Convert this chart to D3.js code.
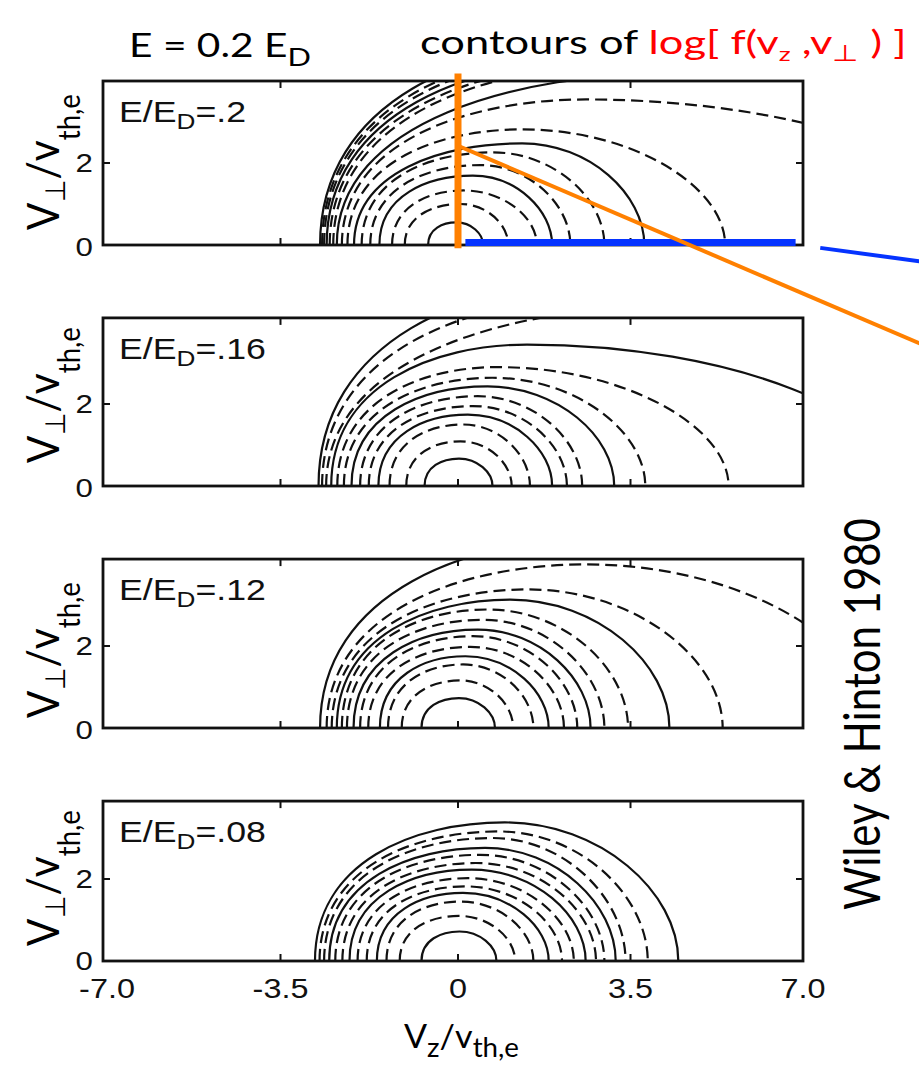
<!DOCTYPE html>
<html>
<head>
<meta charset="utf-8">
<script src="https://cdn.jsdelivr.net/npm/d3@7"></script>
<style>
  html, body { margin: 0; padding: 0; background: #fff; }
  svg { display: block; }
</style>
</head>
<body>
<script>
// E / E_D for each panel, top to bottom
var fieldLabels = [".2", ".16", ".12", ".08"];

var vzTicks = [-7.0, -3.5, 0, 3.5, 7.0];
var vzTickLabels = ["-7.0", "-3.5", "0", "3.5", "7.0"];
var vperpTicks = [0, 2];
var vperpTop = [4.0, 4.1, 4.12, 3.9];

// contours of log f, outer to inner:
// [left foot vz, peak vz, peak vperp, right foot vz, solid (1) / dashed (0)]
var contoursE20 = [
  [-2.72, 3.0, 4.95, 25, 1],
  [-2.68, 3.0, 4.8, 25, 0],
  [-2.64, 3.0, 4.68, 25, 0],
  [-2.59, 3.0, 4.53, 25, 1],
  [-2.53, 3.2, 4.45, 25, 0],
  [-2.46, 3.5, 4.4, 25, 0],
  [-2.39, 4.5, 4.2, 16, 1],
  [-2.29, 2.6, 3.55, 11, 0],
  [-2.18, 1.3, 2.82, 5.42, 0],
  [-2.05, 1.3, 2.48, 3.78, 1],
  [-1.9, 0.7, 2.26, 2.97, 0],
  [-1.73, 0.45, 1.95, 2.28, 0],
  [-1.55, 0.3, 1.69, 1.91, 1],
  [-1.3, 0.12, 1.33, 1.6, 0],
  [-1.05, 0.05, 1.0, 1.02, 0],
  [-0.59, -0.03, 0.55, 0.51, 1]
];
var contoursE16 = [
  [-2.75, 3.0, 5.0, 25, 1],
  [-2.68, 3.0, 4.6, 25, 0],
  [-2.6, 4.5, 4.4, 25, 0],
  [-2.5, 1.4, 3.45, 9, 1],
  [-2.38, 0.8, 2.9, 5.49, 0],
  [-2.25, 0.7, 2.64, 3.8, 0],
  [-2.1, 0.6, 2.43, 3.17, 1],
  [-1.93, 0.4, 2.19, 2.52, 0],
  [-1.76, 0.3, 1.95, 2.21, 0],
  [-1.57, 0.2, 1.74, 1.91, 1],
  [-1.35, 0.1, 1.5, 1.46, 0],
  [-1.02, 0.05, 1.09, 1.09, 0],
  [-0.66, 0.02, 0.67, 0.7, 1]
];
var contoursE12 = [
  [-2.72, 3.0, 4.65, 25, 1],
  [-2.59, 2.6, 3.99, 8.5, 0],
  [-2.49, 1.42, 3.38, 5.37, 0],
  [-2.39, 1.06, 3.13, 4.29, 1],
  [-2.29, 0.6, 2.89, 3.45, 0],
  [-2.19, 0.5, 2.64, 2.97, 0],
  [-2.06, 0.4, 2.4, 2.69, 1],
  [-1.93, 0.3, 2.24, 2.42, 0],
  [-1.77, 0.25, 1.98, 2.15, 0],
  [-1.54, 0.15, 1.75, 1.84, 1],
  [-1.38, 0.1, 1.55, 1.53, 0],
  [-1.11, 0.05, 1.16, 1.12, 0],
  [-0.72, 0.02, 0.73, 0.75, 1]
];
var contoursE08 = [
  [-2.82, 0.95, 3.38, 4.47, 1],
  [-2.73, 0.82, 3.16, 3.85, 0],
  [-2.64, 0.7, 3.0, 3.4, 0],
  [-2.54, 0.55, 2.76, 3.2, 1],
  [-2.42, 0.45, 2.59, 2.97, 0],
  [-2.28, 0.36, 2.39, 2.8, 0],
  [-2.14, 0.28, 2.23, 2.59, 1],
  [-1.98, 0.2, 2.02, 2.35, 0],
  [-1.8, 0.15, 1.82, 2.11, 0],
  [-1.6, 0.1, 1.66, 1.84, 1],
  [-1.41, 0.05, 1.45, 1.53, 0],
  [-1.15, 0.02, 1.1, 1.16, 0],
  [-0.72, 0.03, 0.72, 0.78, 1]
];
var contourSets = [contoursE20, contoursE16, contoursE12, contoursE08];

// annotations drawn over the top panel, in its (vz, vperp) units
var orangeMarker = [[0, -0.08], [0, 4.18]];
var orangePointer = [[0, 2.42], [9.5, -2.47]];
var blueBar = [[0.15, 0.06], [6.85, 0.06]];
var bluePointer = [[7.35, -0.07], [9.5, -0.42]];

var width = 919, height = 1070;
var panelBottom = [245, 486, 728, 961];
var yLabelCenter = [162, 395, 650, 878];
var pxPerUnit = 41;
var ink = "#111";
var slideFont = "Lato, 'Open Sans', sans-serif";
var figFont = "'Liberation Sans', Arial, sans-serif";

var svg = d3.select("body").append("svg")
  .attr("width", width)
  .attr("height", height);

svg.append("rect").attr("width", width).attr("height", height).attr("fill", "#fff");

var x = d3.scaleLinear().domain([-7, 0, 7]).range([103, 458, 803]);

function contourPath(d, y) {
  var a = d[0], c = d[1], h = d[2], b = d[3];
  var p = d3.path();
  p.moveTo(x(a), y(0));
  p.bezierCurveTo(x(a), y(h * 0.72), x(c - (c - a) * 0.48), y(h), x(c), y(h));
  p.bezierCurveTo(x(c + (b - c) * 0.55), y(h), x(b), y(h * 0.5), x(b), y(0));
  return p.toString();
}

// stretch a text along its own direction to a measured length
function fit(text, target) {
  var w = text.node().getBBox().width;
  text.attr("transform", "scale(" + (target / w) + ",1)");
}

var yScales = [];

contourSets.forEach(function (contours, i) {
  var bottom = panelBottom[i];
  var y = d3.scaleLinear()
    .domain([0, vperpTop[i]])
    .range([bottom, bottom - vperpTop[i] * pxPerUnit]);
  yScales.push(y);
  var top = y(vperpTop[i]);

  var panel = svg.append("g");

  panel.append("clipPath").attr("id", "clip" + i)
    .append("rect")
    .attr("x", x(-7)).attr("y", top)
    .attr("width", x(7) - x(-7)).attr("height", bottom - top);

  panel.append("g")
    .attr("clip-path", "url(#clip" + i + ")")
    .selectAll("path")
    .data(contours)
    .enter()
    .append("path")
    .attr("d", function (d) { return contourPath(d, y); })
    .attr("fill", "none")
    .attr("stroke", ink)
    .attr("stroke-width", 2.2)
    .attr("stroke-dasharray", function (d) { return d[4] ? null : "12,6"; });

  // frame
  panel.append("rect")
    .attr("x", x(-7)).attr("y", top)
    .attr("width", x(7) - x(-7)).attr("height", bottom - top)
    .attr("fill", "none")
    .attr("stroke", ink)
    .attr("stroke-width", 2.8);

  // inward ticks
  var inner = vzTicks.filter(function (t) { return Math.abs(t) < 7; });
  panel.selectAll(".xtick-top").data(inner).enter().append("line")
    .attr("x1", function (d) { return x(d); }).attr("x2", function (d) { return x(d); })
    .attr("y1", top).attr("y2", top + 7)
    .attr("stroke", ink).attr("stroke-width", 2);
  panel.selectAll(".xtick-bot").data(inner).enter().append("line")
    .attr("x1", function (d) { return x(d); }).attr("x2", function (d) { return x(d); })
    .attr("y1", bottom).attr("y2", bottom - 7)
    .attr("stroke", ink).attr("stroke-width", 2);
  var innerY = vperpTicks.filter(function (t) { return t > 0; });
  panel.selectAll(".ytick-l").data(innerY).enter().append("line")
    .attr("x1", x(-7)).attr("x2", x(-7) + 7)
    .attr("y1", function (d) { return y(d); }).attr("y2", function (d) { return y(d); })
    .attr("stroke", ink).attr("stroke-width", 2);
  panel.selectAll(".ytick-r").data(innerY).enter().append("line")
    .attr("x1", x(7)).attr("x2", x(7) - 7)
    .attr("y1", function (d) { return y(d); }).attr("y2", function (d) { return y(d); })
    .attr("stroke", ink).attr("stroke-width", 2);

  // tick labels on the vperp axis
  panel.selectAll(".ylab").data(vperpTicks).enter().append("g")
    .attr("transform", function (d) {
      var shift = d === 0 ? (i === 3 ? 0 : 2) : 0;
      return "translate(" + (x(-7) - 10) + "," + (y(d) + 9 + shift) + ")";
    })
    .append("text")
    .attr("text-anchor", "end")
    .attr("font-family", figFont)
    .attr("font-size", 25)
    .attr("fill", ink)
    .attr("transform", "scale(1.25,1)")
    .text(function (d) { return String(d); });

  // E/E_D label in the corner
  var lab = panel.append("g")
    .attr("transform", "translate(119," + (top + 41) + ")")
    .append("text")
    .attr("font-family", figFont)
    .attr("font-size", 30)
    .attr("fill", ink);
  lab.append("tspan").text("E/E");
  lab.append("tspan").attr("font-size", 22).attr("dy", 7).text("D");
  lab.append("tspan").attr("dy", -7).text("=" + fieldLabels[i]);
  lab.attr("transform", "scale(1.19,1)");

  // vertical axis title
  var yt = svg.append("g")
    .attr("transform", "translate(59," + yLabelCenter[i] + ") rotate(-90)")
    .append("text")
    .attr("text-anchor", "middle")
    .attr("font-family", slideFont)
    .attr("font-size", 44)
    .attr("fill", "#000");
  yt.append("tspan").text("V");
  yt.append("tspan").attr("font-size", 28).attr("dy", 6).text("\u22A5");
  yt.append("tspan").attr("dy", -6).text("/v");
  yt.append("tspan").attr("font-size", 30).attr("dy", 21).text("th,e");
  fit(yt, 135);
});

// vz tick labels under the bottom panel
svg.selectAll(".vzlab").data(vzTicks).enter().append("g")
  .attr("transform", function (d) { return "translate(" + (x(d) + (d === -7 ? 4 : 0)) + ",998)"; })
  .append("text")
  .attr("text-anchor", "middle")
  .attr("font-family", figFont)
  .attr("font-size", 27)
  .attr("fill", ink)
  .attr("transform", "scale(1.2,1)")
  .text(function (d, i) { return vzTickLabels[i]; });

// horizontal axis title
var xt = svg.append("g").attr("transform", "translate(404,1048)")
  .append("text")
  .attr("font-family", slideFont)
  .attr("font-size", 32)
  .attr("fill", "#000");
xt.append("tspan").text("V");
xt.append("tspan").attr("font-size", 26).attr("dy", 9).text("z");
xt.append("tspan").attr("dy", -9).text("/v");
xt.append("tspan").attr("font-size", 26).attr("dy", 9).text("th,e");
fit(xt, 115);

// titles
var t1 = svg.append("g").attr("transform", "translate(129,57)")
  .append("text")
  .attr("font-family", slideFont)
  .attr("font-size", 33)
  .attr("fill", "#000");
t1.append("tspan").text("E = 0.2 E");
t1.append("tspan").attr("font-size", 25).attr("dy", 9).text("D");
fit(t1, 182);

var t2 = svg.append("g").attr("transform", "translate(420,54)")
  .append("text")
  .attr("font-family", slideFont)
  .attr("font-size", 33)
  .attr("fill", "#000");
t2.append("tspan").text("contours of ");
t2.append("tspan").attr("fill", "#ff0000").text("log[ f(v");
t2.append("tspan").attr("fill", "#ff0000").attr("font-size", 20).attr("dy", 7).text("z");
t2.append("tspan").attr("fill", "#ff0000").attr("dy", -7).text(" ,v");
t2.append("tspan").attr("fill", "#ff0000").attr("font-size", 23).attr("dy", 7).text("\u22A5");
t2.append("tspan").attr("fill", "#ff0000").attr("dy", -7).text(" ) ]");
fit(t2, 486);

var cite = svg.append("g").attr("transform", "translate(880,714) rotate(-90)")
  .append("text")
  .attr("text-anchor", "middle")
  .attr("font-family", slideFont)
  .attr("font-size", 50)
  .attr("fill", "#000")
  .text("Wiley & Hinton 1980");
fit(cite, 392);

// annotations on the top panel
var y0 = yScales[0];
var seg = d3.line().x(function (d) { return x(d[0]); }).y(function (d) { return y0(d[1]); });

svg.append("path").datum(blueBar).attr("d", seg)
  .attr("stroke", "#0533ff").attr("stroke-width", 7).attr("fill", "none");
svg.append("path").datum(bluePointer).attr("d", seg)
  .attr("stroke", "#0533ff").attr("stroke-width", 4).attr("fill", "none");
svg.append("path").datum(orangePointer).attr("d", seg)
  .attr("stroke", "#ff8000").attr("stroke-width", 4).attr("fill", "none");
svg.append("path").datum(orangeMarker).attr("d", seg)
  .attr("stroke", "#ff8000").attr("stroke-width", 7).attr("fill", "none");
</script>
</body>
</html>
